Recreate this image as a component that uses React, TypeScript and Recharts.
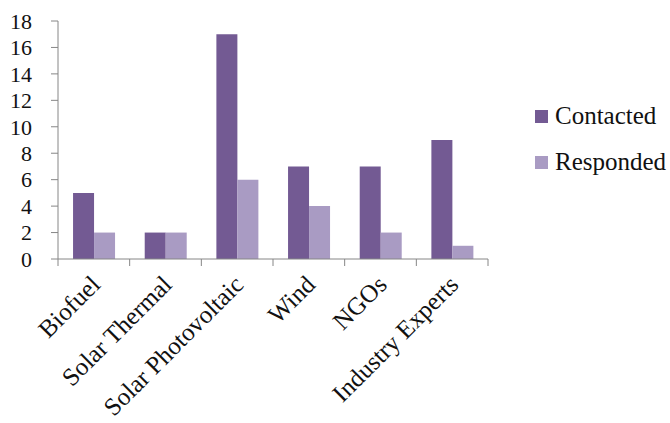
import { BarChart, Bar, XAxis, YAxis } from "recharts";

const categories = ["Biofuel", "Solar Thermal", "Solar Photovoltaic", "Wind", "NGOs", "Industry Experts"];
const contacted = [5, 2, 17, 7, 7, 9];
const responded = [2, 2, 6, 4, 2, 1];
const yTicks = [0, 2, 4, 6, 8, 10, 12, 14, 16, 18];

const FONT = "'Liberation Serif', 'DejaVu Serif', serif";
const DARK = "#735a93";
const LIGHT = "#a99bc3";
const AXIS = "#868686";

const data = categories.map((name, i) => ({
  name,
  Contacted: contacted[i],
  Responded: responded[i],
}));

// tick marks sit on the category boundaries, label rotated under the centre
function CategoryTick({ x, y, payload, index, width, visibleTicksCount }: any) {
  const half = width && visibleTicksCount ? width / visibleTicksCount / 2 : 0;
  const last = index === visibleTicksCount - 1;
  return (
    <g>
      {half > 0 && <line x1={x - half} x2={x - half} y1={y} y2={y + 7} stroke={AXIS} />}
      {half > 0 && last && <line x1={x + half} x2={x + half} y1={y} y2={y + 7} stroke={AXIS} />}
      <g transform={`translate(${x},${y})`}>
        <text
          transform="rotate(-45)"
          x={-13.7}
          y={24.7}
          textAnchor="end"
          fontFamily={FONT}
          fontSize={25}
          fill="#111"
        >
          {payload.value}
        </text>
      </g>
    </g>
  );
}

function LegendBox() {
  const items = [
    { label: "Contacted", color: DARK },
    { label: "Responded", color: LIGHT },
  ];
  return (
    <div style={{ position: "absolute", left: 535, top: 93, fontFamily: FONT, fontSize: 25, color: "#111" }}>
      {items.map((it) => (
        <div key={it.label} style={{ display: "flex", alignItems: "center", height: 46 }}>
          <span style={{ width: 13, height: 13, background: it.color, marginRight: 7, display: "inline-block" }} />
          {it.label}
        </div>
      ))}
    </div>
  );
}

export default function App() {
  return (
    <div style={{ position: "relative", width: 670, height: 423, background: "#fff" }}>
      <style>{`body{margin:0}`}</style>
      <BarChart
        width={670}
        height={423}
        data={data}
        margin={{ top: 21, right: 182, left: 8, bottom: 14 }}
        barCategoryGap="21%"
        barGap={0}
      >
        <XAxis
          dataKey="name"
          interval={0}
          stroke={AXIS}
          tickLine={false}
          tickSize={0}
          tickMargin={0}
          tick={<CategoryTick />}
          height={150}
        />
        <YAxis
          domain={[0, 18]}
          ticks={yTicks}
          interval={0}
          width={50}
          stroke={AXIS}
          tickSize={7}
          tickMargin={19}
          tick={{ fontFamily: FONT, fontSize: 22, fill: "#111" }}
        />
        <Bar dataKey="Contacted" fill={DARK} isAnimationActive={false} />
        <Bar dataKey="Responded" fill={LIGHT} isAnimationActive={false} />
      </BarChart>
      <LegendBox />
    </div>
  );
}
